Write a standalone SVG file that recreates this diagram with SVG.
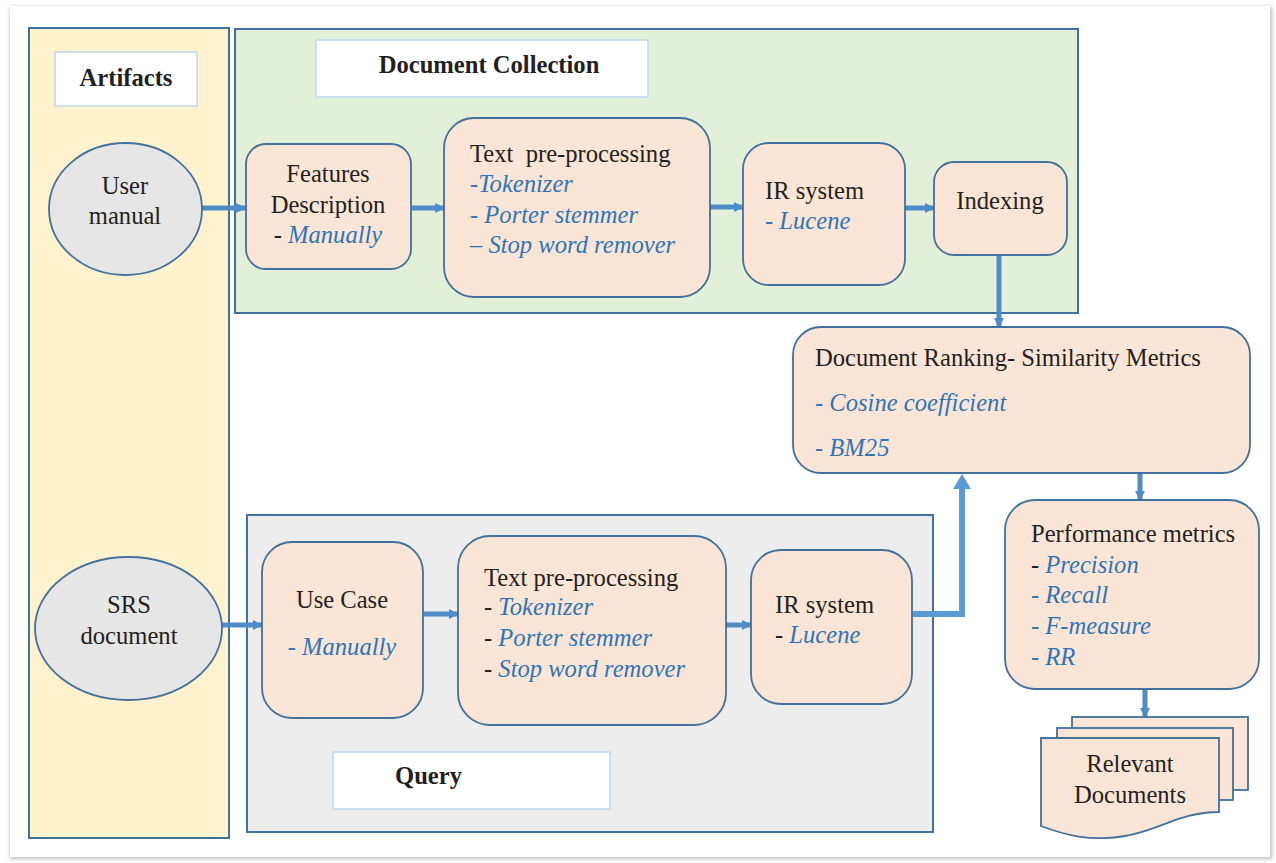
<svg xmlns="http://www.w3.org/2000/svg" width="1276" height="863" viewBox="0 0 1276 863">
  <defs>
    <style>
      .t { font-family: 'Liberation Serif', 'DejaVu Serif', 'Times New Roman', Times, serif; font-size: 24.6px; fill: #231f20; }
      .b { font-weight: bold; }
      .i { font-style: italic; fill: #2e75b6; }
      .mid { text-anchor: middle; }
      .node { fill: #fbe5d6; stroke: #41719c; stroke-width: 1.8; }
      .oval { fill: #e7e6e6; stroke: #41719c; stroke-width: 1.8; }
      .label { fill: #ffffff; stroke: #bdd7ee; stroke-width: 1.5; }
      .flow { stroke: #4f8bc6; stroke-width: 5; fill: none; marker-end: url(#head); }
      .big { stroke: #5b9bd5; stroke-width: 6; fill: none; }
    </style>
    <marker id="head" viewBox="0 0 10 10" refX="9" refY="5" markerWidth="2" markerHeight="2.2" orient="auto" markerUnits="strokeWidth">
      <path d="M0,0 L10,5 L0,10 z" fill="#4f8bc6"/>
    </marker>
    <filter id="shadow" x="-2%" y="-2%" width="104%" height="104%">
      <feGaussianBlur stdDeviation="2"/>
    </filter>
  </defs>

  <!-- page card -->
  <rect x="0" y="0" width="1276" height="863" fill="#ffffff"/>
  <rect x="10" y="7" width="1262" height="852" fill="#bdbdbd" filter="url(#shadow)"/>
  <rect x="10" y="6" width="1260" height="851" fill="#ffffff"/>

  <g font-family="'Liberation Serif', 'DejaVu Serif', serif">
  <!-- lanes -->
  <g id="lane-artifacts">
    <rect x="29" y="28" width="200" height="810" fill="#fff2cc" stroke="#41719c" stroke-width="2"/>
    <rect class="label" x="55" y="52" width="142" height="54"/>
    <text class="t b mid" x="126" y="86">Artifacts</text>
  </g>

  <g id="lane-collection">
    <rect x="235" y="29" width="843" height="284" fill="#e2f0d9" stroke="#41719c" stroke-width="2"/>
    <rect class="label" x="316" y="40" width="332" height="57"/>
    <text class="t b mid" x="489" y="73">Document Collection</text>
  </g>

  <g id="lane-query">
    <rect x="247" y="515" width="686" height="317" fill="#ededed" stroke="#41719c" stroke-width="2"/>
    <rect class="label" x="333" y="752" width="277" height="57"/>
    <text class="t b" x="395" y="784">Query</text>
  </g>

  <!-- connectors -->
  <g id="connectors">
    <line class="flow" x1="202" y1="208" x2="245" y2="208"/>
    <line class="flow" x1="412" y1="208" x2="444" y2="208"/>
    <line class="flow" x1="710" y1="207" x2="743" y2="207"/>
    <line class="flow" x1="905" y1="208" x2="934" y2="208"/>
    <line class="flow" x1="999" y1="255" x2="999" y2="327"/>
    <line class="flow" x1="221" y1="625" x2="262" y2="625"/>
    <line class="flow" x1="423" y1="614" x2="458" y2="614"/>
    <line class="flow" x1="726" y1="625" x2="751" y2="625"/>
    <line class="flow" x1="1140" y1="473" x2="1140" y2="500"/>
    <line class="flow" x1="1145" y1="689" x2="1145" y2="717"/>
    <polyline class="big" points="912,614 962,614 962,488"/>
    <path d="M953,489 L962,474 L971,489 z" fill="#5b9bd5"/>
  </g>

  <!-- sources -->
  <g id="user-manual">
    <ellipse class="oval" cx="125.5" cy="209" rx="76.5" ry="66"/>
    <text class="t mid" x="125" y="194">User</text>
    <text class="t mid" x="125" y="224">manual</text>
  </g>

  <g id="srs-document">
    <ellipse class="oval" cx="128.5" cy="628.5" rx="93.5" ry="71.5"/>
    <text class="t mid" x="129" y="613">SRS</text>
    <text class="t mid" x="129" y="644">document</text>
  </g>

  <!-- document collection pipeline -->
  <g id="features-description">
    <rect class="node" x="246" y="144" width="165" height="125" rx="20"/>
    <text class="t mid" x="328" y="182">Features</text>
    <text class="t mid" x="328" y="213">Description</text>
    <text class="t mid" x="328" y="243"><tspan>- </tspan><tspan class="i">Manually</tspan></text>
  </g>

  <g id="text-preprocessing-doc">
    <rect class="node" x="444" y="118" width="266" height="179" rx="30"/>
    <text class="t" x="470" y="162" style="white-space:pre">Text  pre-processing</text>
    <text class="t i" x="470" y="192">-Tokenizer</text>
    <text class="t i" x="470" y="223">- Porter stemmer</text>
    <text class="t i" x="470" y="253">– Stop word remover</text>
  </g>

  <g id="ir-system-doc">
    <rect class="node" x="743" y="143" width="162" height="142" rx="26"/>
    <text class="t" x="765" y="199">IR system</text>
    <text class="t i" x="765" y="229">- Lucene</text>
  </g>

  <g id="indexing">
    <rect class="node" x="934" y="162" width="133" height="93" rx="20"/>
    <text class="t mid" x="1000" y="209">Indexing</text>
  </g>

  <!-- ranking and evaluation -->
  <g id="document-ranking">
    <rect class="node" x="793" y="327" width="457" height="146" rx="28"/>
    <text class="t" x="815" y="366">Document Ranking- Similarity Metrics</text>
    <text class="t i" x="815" y="411">- Cosine coefficient</text>
    <text class="t i" x="815" y="456">- BM25</text>
  </g>

  <g id="performance-metrics">
    <rect class="node" x="1005" y="500" width="254" height="189" rx="30"/>
    <text class="t" x="1031" y="542">Performance metrics</text>
    <text class="t" x="1031" y="573"><tspan>- </tspan><tspan class="i">Precision</tspan></text>
    <text class="t i" x="1031" y="603">- Recall</text>
    <text class="t i" x="1031" y="634">- F-measure</text>
    <text class="t i" x="1031" y="665">- RR</text>
  </g>

  <g id="relevant-documents">
    <rect class="node" x="1072" y="717" width="176" height="73"/>
    <rect class="node" x="1057" y="728" width="176" height="72"/>
    <path class="node" d="M1041,738 L1219,738 L1219,812 C1180,812 1160,830 1125,836 C1090,842 1065,835 1041,826 Z"/>
    <text class="t mid" x="1130" y="772">Relevant</text>
    <text class="t mid" x="1130" y="803">Documents</text>
  </g>

  <!-- query pipeline -->
  <g id="use-case">
    <rect class="node" x="262" y="542" width="161" height="176" rx="30"/>
    <text class="t mid" x="342" y="608">Use Case</text>
    <text class="t mid i" x="342" y="655">- Manually</text>
  </g>

  <g id="text-preprocessing-query">
    <rect class="node" x="458" y="536" width="268" height="189" rx="32"/>
    <text class="t" x="484" y="586">Text pre-processing</text>
    <text class="t" x="484" y="615"><tspan>- </tspan><tspan class="i">Tokenizer</tspan></text>
    <text class="t" x="484" y="646"><tspan>- </tspan><tspan class="i">Porter stemmer</tspan></text>
    <text class="t" x="484" y="677"><tspan>- </tspan><tspan class="i">Stop word remover</tspan></text>
  </g>

  <g id="ir-system-query">
    <rect class="node" x="751" y="550" width="161" height="154" rx="30"/>
    <text class="t" x="775" y="613">IR system</text>
    <text class="t" x="775" y="643"><tspan>- </tspan><tspan class="i">Lucene</tspan></text>
  </g>
  </g>
</svg>
